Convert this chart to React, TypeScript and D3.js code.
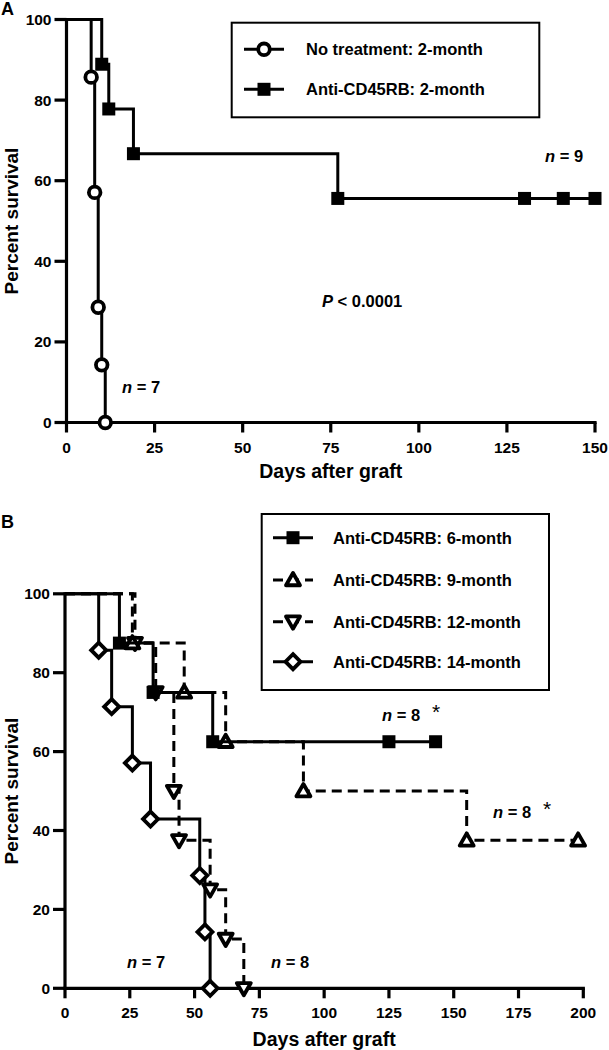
import React from "react";
import * as d3 from "d3";

// ---------- Data ----------
const ticksA = [0, 25, 50, 75, 100, 125, 150];
const ticksB = [0, 25, 50, 75, 100, 125, 150, 175, 200];
const yTicks = [0, 20, 40, 60, 80, 100];

// Panel A
const noTreatDays = [7, 8, 9, 10, 11];
const noTreatSurv = [85.7, 57.1, 28.6, 14.3, 0];
const noTreatCensor: number[] = [];

const anti2Days = [10, 12, 19, 77];
const anti2Surv = [88.9, 77.8, 66.7, 55.6];
const anti2Censor = [130, 141, 150];

// Panel B
const anti6Days = [21, 34, 57];
const anti6Surv = [87.5, 75, 62.5];
const anti6Censor = [125, 143];

const anti9Days = [26, 46, 62, 92, 155];
const anti9Surv = [87.5, 75, 62.5, 50, 37.5];
const anti9Censor = [198];

const anti12Days = [27, 35, 42, 44, 56, 62, 69];
const anti12Surv = [87.5, 75, 50, 37.5, 25, 12.5, 0];
const anti12Censor: number[] = [];

const anti14Days = [13, 18, 26, 33, 52, 54, 56];
const anti14Surv = [85.7, 71.4, 57.1, 42.9, 28.6, 14.3, 0];
const anti14Censor: number[] = [];

const legendA = ["No treatment: 2-month", "Anti-CD45RB: 2-month"];
const legendB = [
  "Anti-CD45RB: 6-month",
  "Anti-CD45RB: 9-month",
  "Anti-CD45RB: 12-month",
  "Anti-CD45RB: 14-month",
];

// ---------- Styles ----------
const FONT = "'Liberation Sans', Arial, Helvetica, sans-serif";
const DASH = "10,6";
const LW = 3;
const AXW = 3.2;

type Marker = "circle" | "square" | "tri-up" | "tri-down" | "diamond";

function MarkerShape({ type, x, y }: { type: Marker; x: number; y: number }) {
  const sw = 3.8;
  if (type === "circle")
    return <circle cx={x} cy={y} r={5.8} fill="#fff" stroke="#000" strokeWidth={sw} />;
  if (type === "square")
    return <rect x={x - 6.5} y={y - 6.5} width={13} height={13} fill="#000" />;
  if (type === "tri-up") {
    const s = 7;
    return (
      <path
        d={`M${x},${y - s} L${x + s},${y + s * 0.75} L${x - s},${y + s * 0.75}Z`}
        fill="#fff"
        stroke="#000"
        strokeWidth={sw}
        strokeLinejoin="round"
      />
    );
  }
  if (type === "tri-down") {
    const s = 7;
    return (
      <path
        d={`M${x},${y + s} L${x + s},${y - s * 0.75} L${x - s},${y - s * 0.75}Z`}
        fill="#fff"
        stroke="#000"
        strokeWidth={sw}
        strokeLinejoin="round"
      />
    );
  }
  const s = 7.5;
  return (
    <path
      d={`M${x},${y - s} L${x + s},${y} L${x},${y + s} L${x - s},${y}Z`}
      fill="#fff"
      stroke="#000"
      strokeWidth={sw}
    />
  );
}

type Series = {
  days: number[];
  surv: number[];
  censor: number[];
  marker: Marker;
  dashed: boolean;
};

function KMSeries({
  s,
  x,
  y,
}: {
  s: Series;
  x: d3.ScaleLinear<number, number>;
  y: d3.ScaleLinear<number, number>;
}) {
  const pts: [number, number][] = [[0, 100]];
  s.days.forEach((d, i) => pts.push([d, s.surv[i]]));
  const last = s.surv[s.surv.length - 1];
  if (s.censor.length) pts.push([d3.max(s.censor) as number, last]);
  const line = d3
    .line<[number, number]>()
    .x((p) => x(p[0]))
    .y((p) => y(p[1]))
    .curve(d3.curveStepAfter);
  const markers: [number, number][] = s.days.map((d, i) => [d, s.surv[i]]);
  s.censor.forEach((c) => markers.push([c, last]));
  return (
    <g>
      <path
        d={line(pts) || ""}
        fill="none"
        stroke="#000"
        strokeWidth={LW}
        strokeDasharray={s.dashed ? DASH : undefined}
      />
      {markers.map((m, i) => (
        <MarkerShape key={i} type={s.marker} x={x(m[0])} y={y(m[1])} />
      ))}
    </g>
  );
}

function Axes({
  x,
  y,
  ticks,
  yLabelRight,
  xLabelBaseline,
  titleBaseline,
  yTitleX,
}: {
  x: d3.ScaleLinear<number, number>;
  y: d3.ScaleLinear<number, number>;
  ticks: number[];
  yLabelRight: number;
  xLabelBaseline: number;
  titleBaseline: number;
  yTitleX: number;
}) {
  const [x0, x1] = x.range();
  const [yb, yt] = y.range();
  const tl = 10;
  return (
    <g fontFamily={FONT}>
      <line x1={x0} x2={x1} y1={yb} y2={yb} stroke="#000" strokeWidth={AXW} strokeLinecap="square" />
      <line x1={x0} x2={x0} y1={yb} y2={yt} stroke="#000" strokeWidth={AXW} strokeLinecap="square" />
      {ticks.map((t) => (
        <g key={"x" + t}>
          <line x1={x(t)} x2={x(t)} y1={yb} y2={yb + tl} stroke="#000" strokeWidth={AXW} />
          <text
            x={x(t)}
            y={xLabelBaseline}
            textAnchor="middle"
            fontSize={15.5}
            fontWeight="bold"
          >
            {t}
          </text>
        </g>
      ))}
      {yTicks.map((t) => (
        <g key={"y" + t}>
          <line x1={x0 - 12} x2={x0} y1={y(t)} y2={y(t)} stroke="#000" strokeWidth={AXW} />
          <text
            x={yLabelRight}
            y={y(t) + 5.5}
            textAnchor="end"
            fontSize={15.5}
            fontWeight="bold"
          >
            {t}
          </text>
        </g>
      ))}
      <text
        x={(x0 + x1) / 2}
        y={titleBaseline}
        textAnchor="middle"
        fontSize={19.5}
        fontWeight="bold"
      >
        Days after graft
      </text>
      <text
        transform={`translate(${yTitleX},${(yb + yt) / 2}) rotate(-90)`}
        textAnchor="middle"
        fontSize={19}
        fontWeight="bold"
      >
        Percent survival
      </text>
    </g>
  );
}

function NLabel({ x, y, v, star }: { x: number; y: number; v: string; star?: boolean }) {
  return (
    <g fontFamily={FONT} fontSize={16.5} fontWeight="bold">
      <text x={x} y={y}>
        <tspan fontStyle="italic">n</tspan>
        <tspan> = {v}</tspan>
      </text>
      {star && (
        <text x={x + 50} y={y - 2} fontSize={21} fontWeight="normal">
          *
        </text>
      )}
    </g>
  );
}

function LegendEntry({
  x1,
  x2,
  y,
  marker,
  dashed,
  label,
  textX,
}: {
  x1: number;
  x2: number;
  y: number;
  marker: Marker;
  dashed: boolean;
  label: string;
  textX: number;
}) {
  return (
    <g>
      <line
        x1={x1}
        x2={x2}
        y1={y}
        y2={y}
        stroke="#000"
        strokeWidth={LW}
        strokeDasharray={dashed ? DASH : undefined}
      />
      <MarkerShape type={marker} x={(x1 + x2) / 2} y={y} />
      <text
        x={textX}
        y={y + 6}
        fontFamily={FONT}
        fontSize={16.5}
        fontWeight="bold"
      >
        {label}
      </text>
    </g>
  );
}

export default function App() {
  const xA = d3.scaleLinear().domain([0, 150]).range([66.5, 595]);
  const yA = d3.scaleLinear().domain([0, 100]).range([422.5, 19.5]);
  const xB = d3.scaleLinear().domain([0, 200]).range([65, 583.3]);
  const yB = d3.scaleLinear().domain([0, 100]).range([988.3, 593.8]);

  const seriesA: Series[] = [
    { days: noTreatDays, surv: noTreatSurv, censor: noTreatCensor, marker: "circle", dashed: false },
    { days: anti2Days, surv: anti2Surv, censor: anti2Censor, marker: "square", dashed: false },
  ];
  const seriesB: Series[] = [
    { days: anti14Days, surv: anti14Surv, censor: anti14Censor, marker: "diamond", dashed: false },
    { days: anti12Days, surv: anti12Surv, censor: anti12Censor, marker: "tri-down", dashed: true },
    { days: anti9Days, surv: anti9Surv, censor: anti9Censor, marker: "tri-up", dashed: true },
    { days: anti6Days, surv: anti6Surv, censor: anti6Censor, marker: "square", dashed: false },
  ];
  const legendBMarkers: Marker[] = ["square", "tri-up", "tri-down", "diamond"];
  const legendBDashed = [false, true, true, false];
  const legendBY = [537.7, 580, 621.7, 661.7];

  return (
    <svg
      width={609}
      height={1050}
      style={{ position: "absolute", left: 0, top: 0, background: "#fff" }}
    >
      <rect x={0} y={0} width={609} height={1050} fill="#fff" />
      {/* Panel A */}
      <text x={1} y={15} fontFamily={FONT} fontSize={18} fontWeight="bold">
        A
      </text>
      <Axes
        x={xA}
        y={yA}
        ticks={ticksA}
        yLabelRight={51.5}
        xLabelBaseline={453}
        titleBaseline={478}
        yTitleX={18}
      />
      {seriesA.map((s, i) => (
        <KMSeries key={i} s={s} x={xA} y={yA} />
      ))}
      <rect x={231.7} y={22.7} width={307.6} height={94.6} fill="#fff" stroke="#000" strokeWidth={2} />
      <LegendEntry x1={244} x2={284} y={49.3} marker="circle" dashed={false} label={legendA[0]} textX={306} />
      <LegendEntry x1={244} x2={284} y={89.3} marker="square" dashed={false} label={legendA[1]} textX={306} />
      <NLabel x={545} y={162} v="9" />
      <NLabel x={122} y={393} v="7" />
      <text x={322} y={307} fontFamily={FONT} fontSize={16.5} fontWeight="bold">
        <tspan fontStyle="italic">P</tspan>
        <tspan> &lt; 0.0001</tspan>
      </text>

      {/* Panel B */}
      <text x={1} y={528} fontFamily={FONT} fontSize={18} fontWeight="bold">
        B
      </text>
      <Axes
        x={xB}
        y={yB}
        ticks={ticksB}
        yLabelRight={50}
        xLabelBaseline={1018}
        titleBaseline={1046}
        yTitleX={18}
      />
      {seriesB.map((s, i) => (
        <KMSeries key={i} s={s} x={xB} y={yB} />
      ))}
      <rect x={261.7} y={514} width={287.3} height={176} fill="#fff" stroke="#000" strokeWidth={2} />
      {legendB.map((l, i) => (
        <LegendEntry
          key={i}
          x1={273}
          x2={313}
          y={legendBY[i]}
          marker={legendBMarkers[i]}
          dashed={legendBDashed[i]}
          label={l}
          textX={333}
        />
      ))}
      <NLabel x={382} y={721} v="8" star />
      <NLabel x={493} y={818} v="8" star />
      <NLabel x={127} y={968} v="7" />
      <NLabel x={271} y={968} v="8" />
    </svg>
  );
}
